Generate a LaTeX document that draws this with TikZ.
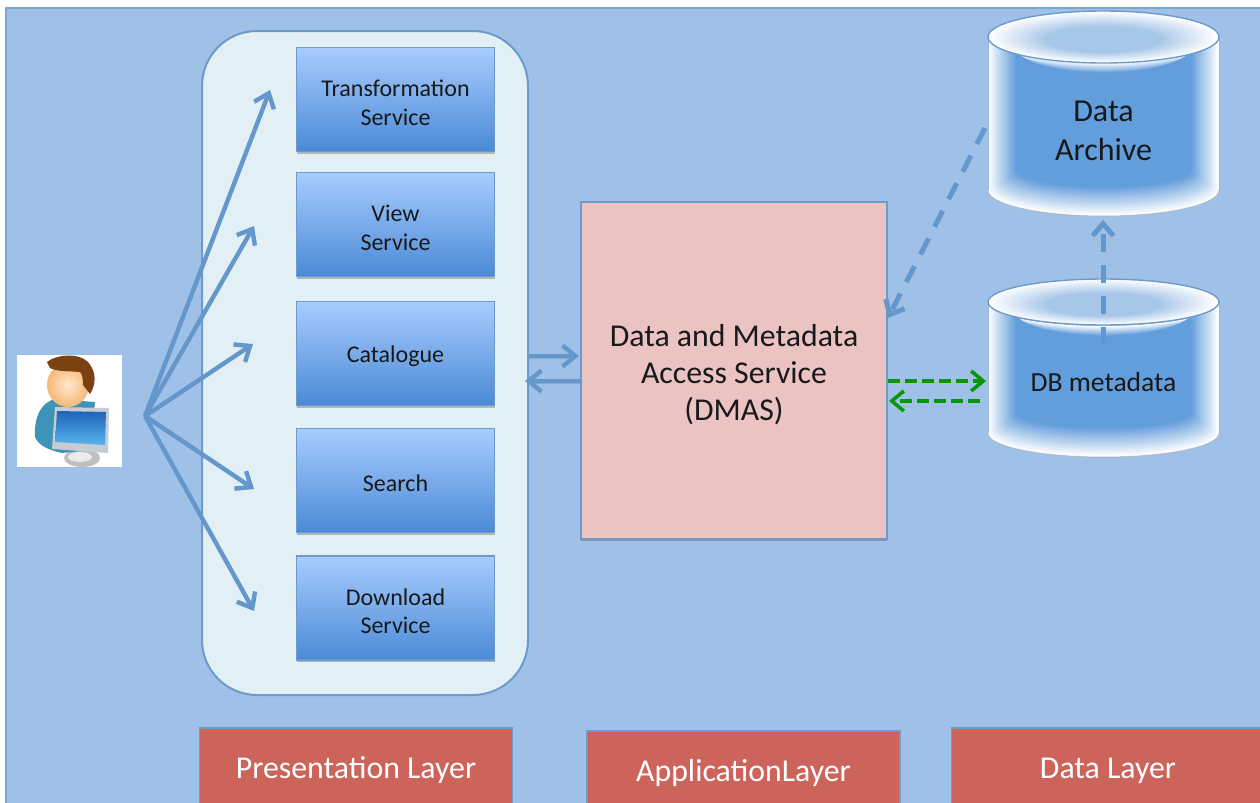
\documentclass[tikz,border=0pt]{standalone}
\usepackage{fontspec}
\setmainfont{Carlito}
\usetikzlibrary{arrows.meta,shadows,calc}
\definecolor{bgblue}{HTML}{9FC1E8}
\definecolor{edgeblue}{HTML}{6C9BCB}
\definecolor{panelfill}{HTML}{E2F0F6}
\definecolor{boxtop}{HTML}{A8CCFF}
\definecolor{boxbot}{HTML}{4A8AD6}
\definecolor{dmasfill}{HTML}{ECC3C3}
\definecolor{layerred}{HTML}{CD645C}
\definecolor{arrowblue}{HTML}{6497CC}
\definecolor{darkgreen}{HTML}{0A960A}
\definecolor{cylcore}{HTML}{629DDC}
\definecolor{cyllid}{HTML}{A7C7E9}
\definecolor{userbody}{HTML}{3E93B8}
\definecolor{skinin}{HTML}{FFE8CC}
\definecolor{skinout}{HTML}{F5B875}
\definecolor{hair}{HTML}{7A4212}
\definecolor{monframe}{HTML}{C6CCD2}
\definecolor{scrtop}{HTML}{1E63B8}
\definecolor{scrbot}{HTML}{58B4EC}
\tikzset{
  softshadow/.style={drop shadow={shadow xshift=0pt,shadow yshift=-1pt,opacity=.35,fill=black!70}},
  svclabel/.style={align=center,inner sep=0pt,yshift=-1.6pt,font=\fontsize{12}{14.3}\selectfont,text=black!90},
  servicebox/.style={rectangle,draw=edgeblue,line width=.6pt,top color=boxtop,bottom color=boxbot,
    minimum width=99pt,minimum height=52pt,inner sep=0pt,softshadow},
  layerlabel/.style={inner sep=0pt,yshift=-1.2pt,text=white,font=\fontsize{15.9}{18}\selectfont},
  layerbox/.style={rectangle,draw=edgeblue,line width=.7pt,fill=layerred,minimum width=156.5pt,minimum height=40pt,inner sep=0pt},
  dmaslabel/.style={align=center,inner sep=0pt,yshift=-2pt,font=\fontsize{15.9}{18.5}\selectfont,text=black!90},
  cyltext/.style={rectangle,inner sep=0pt,align=center,text=black!90,minimum width=115.5pt},
  arrowshadow/.style={preaction={draw=black,opacity=.13,transform canvas={yshift=-1pt}}},
  flow/.style={draw=arrowblue,line width=2.2pt,arrowshadow,-{Straight Barb[length=6.5pt,width=10.5pt,line width=2.2pt]}},
  dashedflow/.style={draw=arrowblue,line width=2.5pt,dash pattern=on 9pt off 6.5pt,-{Straight Barb[length=6pt,width=10.5pt,line width=2.5pt]}},
  greenflow/.style={draw=darkgreen,line width=1.8pt,dash pattern=on 6pt off 2.5pt,-{Straight Barb[length=6pt,width=10pt,line width=1.8pt]}}
}
\newcommand\cylbody[5]{%
  \foreach \i in {0,...,24}{%
    \pgfmathsetmacro\tv{\i/24}%
    \pgfmathsetmacro\xl{#1+28*\tv}%
    \pgfmathsetmacro\xr{#2-28*\tv}%
    \pgfmathsetmacro\yc{#3+10*\tv}%
    \pgfmathsetmacro\yb{#4-20*\tv}%
    \pgfmathsetmacro\rx{(#2-#1)/4-14*\tv}%
    \pgfmathsetmacro\rt{#5/2}%
    \pgfmathsetmacro\rb{#5/2-4.5*\tv}%
    \pgfmathsetmacro\pc{100*\tv}%
    \fill[cylcore!\pc!white] (\xl,\yc) arc[start angle=180,end angle=360,x radius=\rx pt,y radius=\rt pt]
      -- (\xr,\yb) arc[start angle=0,end angle=-180,x radius=\rx pt,y radius=\rb pt] -- cycle;
  }%
  \draw[draw=edgeblue!70!white,line width=.5pt] (#1,#3) -- (#1,#4);
  \draw[draw=edgeblue!70!white,line width=.5pt] (#2,#3) -- (#2,#4);
  \draw[draw=black!35,line width=.5pt,opacity=.5] (#1,#4) arc[start angle=180,end angle=360,x radius={(#2-#1)/4*1pt},y radius={#5/2*1pt}];
}
\newcommand\cyllid[5]{%
  \foreach \i in {0,...,24}{%
    \pgfmathsetmacro\tv{\i/24}%
    \pgfmathsetmacro\pc{min(100,100*\tv/.62)}%
    \pgfmathsetmacro\xm{(#1+#2)/2}%
    \pgfmathsetmacro\yc{#3+4*\tv}%
    \pgfmathsetmacro\rx{(#2-#1)/4*(1-.8*\tv)}%
    \pgfmathsetmacro\ry{#5/2*(1-.8*\tv)}%
    \fill[cyllid!\pc!white] (\xm,\yc) ellipse[x radius=\rx pt,y radius=\ry pt];
  }%
  \pgfmathsetmacro\xm{(#1+#2)/2}%
  \draw[draw=edgeblue,line width=.7pt] (\xm,#3) ellipse[x radius={(#2-#1)/4*1pt},y radius={#5/2*1pt}];
}
\begin{document}
\begin{tikzpicture}[x=.5pt,y=-.5pt]
\useasboundingbox (0,0) rectangle (1260,803);
\clip (0,0) rectangle (1260,803);
\fill[white] (0,0) rectangle (1260,803);
\draw[draw=edgeblue!90,fill=bgblue,line width=.8pt] (6,8) rectangle (1275,815);

% user icon
\node[rectangle,fill=white,minimum width=52.5pt,minimum height=56pt,inner sep=0pt] (user) at (69.5,411) {};
\fill[black!25] (82,458) ellipse[x radius=9pt,y radius=4.5pt];
\fill[black!8] (80,457) ellipse[x radius=6pt,y radius=2.5pt];
\fill[userbody] (35,437) .. controls (34,418) and (40,403) .. (55,399) -- (95,402) -- (90,450) -- (62,453) .. controls (48,450) and (38,445) .. (35,437) -- cycle;
\shade[inner color=skinin,outer color=skinout] (68,385) ellipse[x radius=10.5pt,y radius=11pt];
\fill[hair] (47,362) .. controls (55,355) and (78,352) .. (88,362) .. controls (97,372) and (96,385) .. (90,394)
  -- (83,385) .. controls (83,378) and (82,374) .. (80,372) .. controls (70,371) and (58,372) .. (50,368) -- cycle;
\fill[monframe] (55,407) -- (109,408) -- (108,453) -- (52,449) -- cycle;
\shade[top color=scrtop,bottom color=scrbot] (57,411) -- (106,412) -- (105,445) -- (55,442) -- cycle;

% panel
\draw[draw=edgeblue,fill=panelfill,line width=1pt,rounded corners=27.5pt] (202,31) rectangle (528,695);
\node[servicebox,label={[svclabel]center:{Transformation\\Service}}] (svcT) at (395.5,99.5) {};
\node[servicebox,label={[svclabel]center:{View\\Service}}] (svcV) at (395.5,224.5) {};
\node[servicebox,label={[svclabel]center:{Catalogue}}] (svcC) at (395.5,353.5) {};
\node[servicebox,label={[svclabel]center:{Search}}] (svcS) at (395.5,480.5) {};
\node[servicebox,label={[svclabel]center:{Download\\Service}}] (svcD) at (395.5,608) {};

% DMAS
\node[rectangle,draw=edgeblue,line width=.8pt,fill=dmasfill,minimum width=153pt,minimum height=168.5pt,inner sep=0pt,
  softshadow,label={[dmaslabel]center:{Data and Metadata\\Access Service\\(DMAS)}}] (dmas) at (734,370.5) {};

% layers
\node[layerbox,label={[layerlabel]center:Presentation Layer}] (layerP) at (356,768) {};
\node[layerbox,label={[layerlabel]center:ApplicationLayer}] (layerA) at (743.5,771) {};
\node[layerbox,label={[layerlabel]center:Data Layer}] (layerD) at (1108,768) {};

% cylinders
\cylbody{988}{1219}{37}{190}{26}
\cyllid{988}{1219}{37}{190}{26}
\node[cyltext,minimum height=60pt,font=\fontsize{16}{19.5}\selectfont] (archive) at (1103.5,131) {Data\\Archive};
\cylbody{988}{1219}{302}{433}{24}
\cyllid{988}{1219}{302}{433}{23}
\node[cyltext,minimum height=60pt,font=\fontsize{13.8}{15}\selectfont] (dbmeta) at (1103.5,382) {DB metadata};

% connector ends
\coordinate (hub) at (145,416);
\coordinate (toT) at (270,90);
\coordinate (toV) at (254,226);
\coordinate (toC) at (253,344);
\coordinate (toS) at (254,489);
\coordinate (toD) at (254,611);
\foreach \e in {toT,toV,toC,toS,toD} \draw[flow] (hub) -- (\e);

\coordinate (panelR1) at (529,356);
\coordinate (dmasL1) at (579,356);
\coordinate (dmasL2) at (581,381);
\coordinate (panelR2) at (525,381);
\draw[flow] (panelR1) -- (dmasL1);
\draw[flow] (dmasL2) -- (panelR2);

\coordinate (archL) at (985,128);
\coordinate (dmasTop) at (888,318);
\coordinate (dbIn) at (1103,345);
\coordinate (archB) at (1103,220);
\draw[dashedflow] (archL) -- (dmasTop);
\draw[dashedflow] (dbIn) -- (archB);

\coordinate (g1a) at (888,381);
\coordinate (g1b) at (986,381);
\coordinate (g2a) at (980,401);
\coordinate (g2b) at (889,401);
\draw[greenflow] (g1a) -- (g1b);
\draw[greenflow] (g2a) -- (g2b);
\end{tikzpicture}
\end{document}
